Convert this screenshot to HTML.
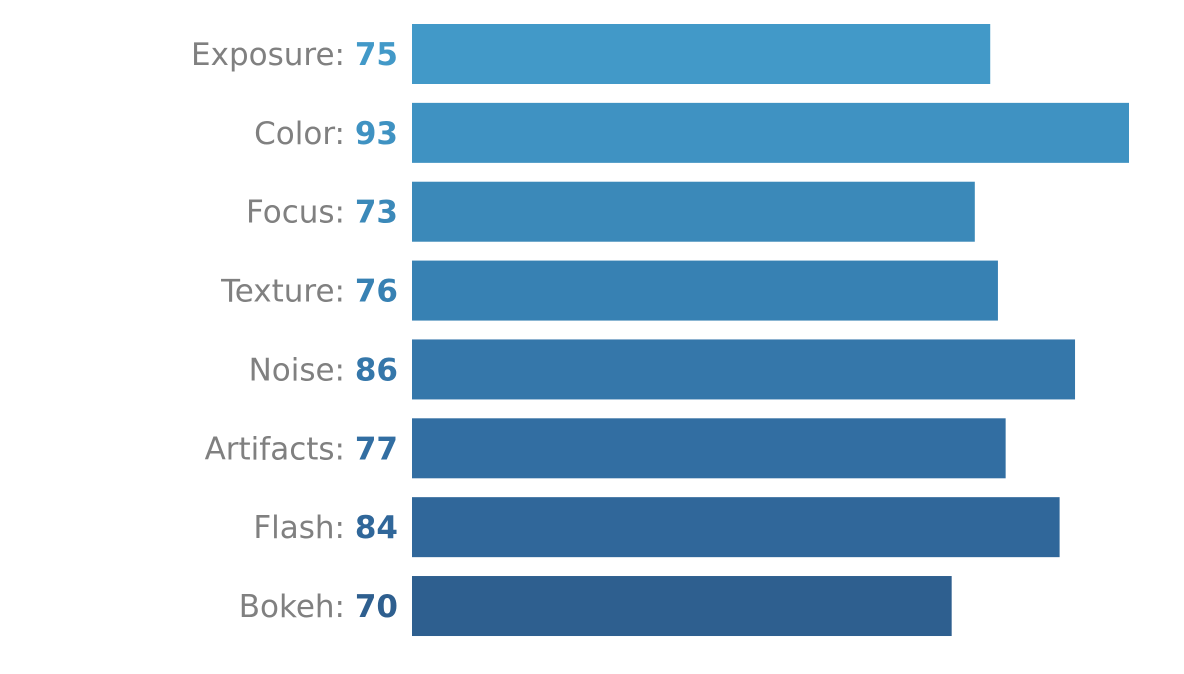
<!DOCTYPE html>
<html><head><meta charset="utf-8"><style>
html,body{margin:0;padding:0;background:#fff;}
svg{display:block;}
</style></head><body>
<svg id="chart" width="1184" height="674" xmlns="http://www.w3.org/2000/svg"></svg>
<script>
const categories = ["Exposure","Color","Focus","Texture","Noise","Artifacts","Flash","Bokeh"];
const values = [75,93,73,76,86,77,84,70];
const colors = ["#4299c8","#3f92c2","#3b89b9","#3781b3","#3577aa","#326ea2","#30679a","#2e5f8f"];

const svgEl = document.getElementById('chart');
const NS = "http://www.w3.org/2000/svg";
const x0 = 412, xMaxPx = 1129, maxVal = 93;
function xScale(v){ return x0 + (v/maxVal)*(xMaxPx-x0); }
const topY = 24, stepY = 78.86, barH = 60;
function yScale(i){ return topY + i*stepY; }

categories.forEach((c,i)=>{
  const y = yScale(i);
  const r = document.createElementNS(NS,'rect');
  
  
  r.setAttribute('x', x0);
  r.setAttribute('y', y);
  r.setAttribute('width', xScale(values[i]) - x0);
  r.setAttribute('height', barH);
  r.setAttribute('fill', colors[i]);
  svgEl.appendChild(r);

  const t = document.createElementNS(NS,'text');
  
  
  t.setAttribute('x', 398);
  t.setAttribute('y', y + barH/2 + 11);
  t.setAttribute('text-anchor', 'end');
  t.setAttribute('font-family', '"DejaVu Sans", "Liberation Sans", sans-serif');
  t.setAttribute('font-size', '31');
  const s1 = document.createElementNS(NS,'tspan');
  s1.setAttribute('fill', '#808080');
  s1.textContent = c + ': ';
  const s2 = document.createElementNS(NS,'tspan');
  s2.setAttribute('fill', colors[i]);
  s2.setAttribute('font-weight', 'bold');
  s2.textContent = values[i];
  t.appendChild(s1); t.appendChild(s2);
  svgEl.appendChild(t);
});
</script>
</body></html>
